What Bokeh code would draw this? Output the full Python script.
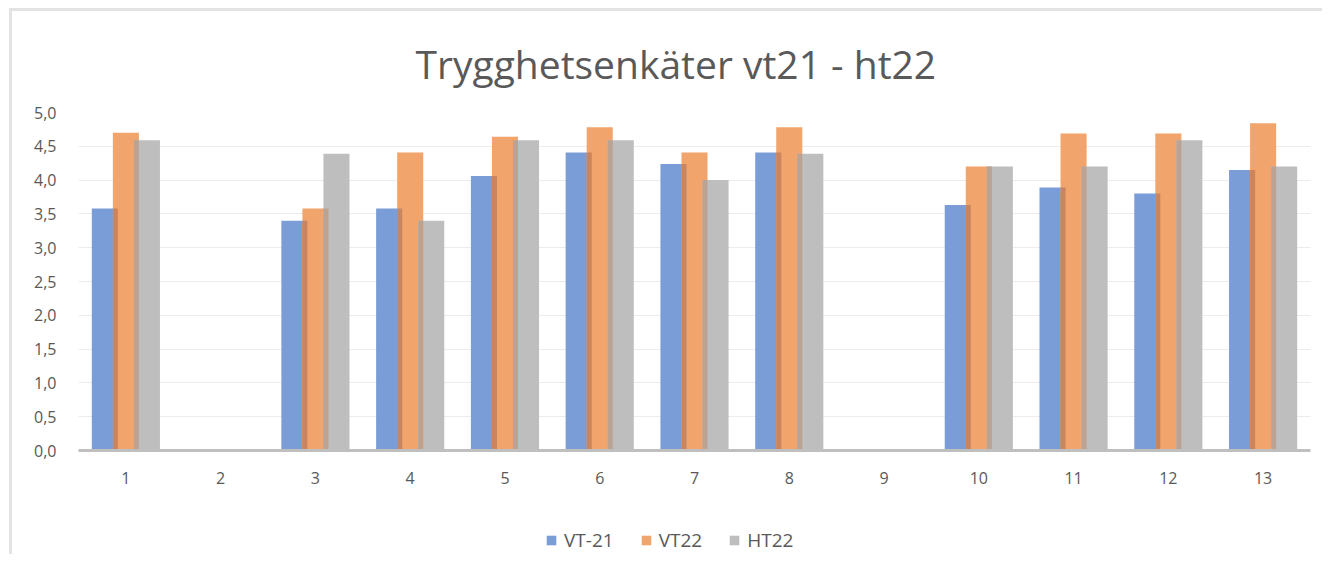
from bokeh.plotting import figure
from bokeh.models import FactorRange, Legend, LegendItem, ColumnDataSource
from bokeh.layouts import column
from bokeh.transform import dodge
from bokeh.embed import file_html
from bokeh.resources import INLINE

nan = float("nan")
categories = ["1", "2", "3", "4", "5", "6", "7", "8", "9", "10", "11", "12", "13"]
series_names = ["VT-21", "VT22", "HT22"]
vt21 = [3.58, nan, 3.40, 3.58, 4.06, 4.41, 4.24, 4.41, nan, 3.63, 3.89, 3.80, 4.15]
vt22 = [4.70, nan, 3.58, 4.41, 4.64, 4.78, 4.41, 4.78, nan, 4.20, 4.69, 4.69, 4.84]
ht22 = [4.59, nan, 4.39, 3.40, 4.59, 4.59, 4.00, 4.39, nan, 4.20, 4.20, 4.59, 4.20]
y_ticks = [0.0, 0.5, 1.0, 1.5, 2.0, 2.5, 3.0, 3.5, 4.0, 4.5, 5.0]
y_tick_labels = ["0,0", "0,5", "1,0", "1,5", "2,0", "2,5", "3,0", "3,5", "4,0", "4,5", "5,0"]
title_text = "Trygghetsenkäter vt21 - ht22"

colors = ["#7A9DD7", "#F1A46B", "#BEBEBE"]
overlap_colors = ["#C9855F", "#BBA393"]
FONT = "Open Sans"
TXT = "#595959"


def pair_min(a, b):
    return [min(x, y) if (x == x and y == y) else nan for x, y in zip(a, b)]


src = ColumnDataSource(dict(
    cat=categories, vt21=vt21, vt22=vt22, ht22=ht22,
    ov1=pair_min(vt21, vt22), ov2=pair_min(vt22, ht22),
))

p = figure(
    x_range=FactorRange(*categories), y_range=(0, 5),
    width=1310, height=497, output_backend="svg", toolbar_location=None,
    min_border_left=66, min_border_right=12, min_border_top=101, min_border_bottom=58,
)

step = 0.222
w = 0.275
ovw = w - step
p.vbar(x=dodge("cat", -step, range=p.x_range), top="vt21", width=w, source=src,
       fill_color=colors[0], line_color=None)
p.vbar(x=dodge("cat", 0, range=p.x_range), top="vt22", width=w, source=src,
       fill_color=colors[1], line_color=None)
p.vbar(x=dodge("cat", -step / 2, range=p.x_range), top="ov1", width=ovw, source=src,
       fill_color=overlap_colors[0], line_color=None)
p.vbar(x=dodge("cat", step, range=p.x_range), top="ht22", width=w, source=src,
       fill_color=colors[2], line_color=None)
p.vbar(x=dodge("cat", step / 2, range=p.x_range), top="ov2", width=ovw, source=src,
       fill_color=overlap_colors[1], line_color=None)

p.title.text = title_text
p.title.align = "left"
p.title.offset = 337
p.title.text_font = FONT
p.title.text_font_size = "39px"
p.title.text_font_style = "normal"
p.title.text_color = TXT
p.title.standoff = 46

p.outline_line_color = None
p.xgrid.grid_line_color = None
p.ygrid.grid_line_color = "#ececec"
p.ygrid.ticker = y_ticks

p.yaxis.ticker = y_ticks
p.yaxis.major_label_overrides = {t: l for t, l in zip(y_ticks, y_tick_labels)}
p.yaxis.axis_line_color = None
p.yaxis.major_tick_line_color = None
p.yaxis.minor_tick_line_color = None
p.yaxis.major_label_standoff = 16
p.yaxis.major_label_text_font = FONT
p.yaxis.major_label_text_font_size = "16px"
p.yaxis.major_label_text_color = TXT

p.xaxis.axis_line_color = "#BFBFBF"
p.xaxis.axis_line_width = 3
p.xaxis.major_tick_line_color = None
p.xaxis.minor_tick_line_color = None
p.xaxis.major_label_standoff = 15
p.xaxis.major_label_text_font = FONT
p.xaxis.major_label_text_font_size = "16px"
p.xaxis.major_label_text_color = TXT

# legend strip: same series drawn out of view, legend in its frame
lg = figure(
    x_range=FactorRange(*categories), y_range=(100, 101),
    width=1310, height=46, output_backend="svg", toolbar_location=None,
    x_axis_type=None, y_axis_type=None,
    min_border_left=66, min_border_right=12, min_border_top=0, min_border_bottom=0,
)
lg.outline_line_color = None
lg.xgrid.grid_line_color = None
lg.ygrid.grid_line_color = None
cols = ["vt21", "vt22", "ht22"]
rs = [lg.vbar(x="cat", top=c, width=w, source=src, fill_color=col, line_color=None)
      for c, col in zip(cols, colors)]
legend = Legend(items=[LegendItem(label=n, renderers=[r]) for n, r in zip(series_names, rs)],
                orientation="horizontal", location=(467, 1),
                border_line_color=None, background_fill_alpha=0,
                label_text_font=FONT, label_text_font_size="19px", label_text_color=TXT,
                glyph_width=12, glyph_height=12, spacing=26, label_standoff=7)
lg.add_layout(legend)

layout = column(p, lg, spacing=0,
                styles={"margin-top": "8px", "margin-left": "9px",
                        "border-top": "3px solid #e3e3e3", "border-left": "3px solid #e3e3e3"})

open("out.html", "w").write(file_html(layout, INLINE))
